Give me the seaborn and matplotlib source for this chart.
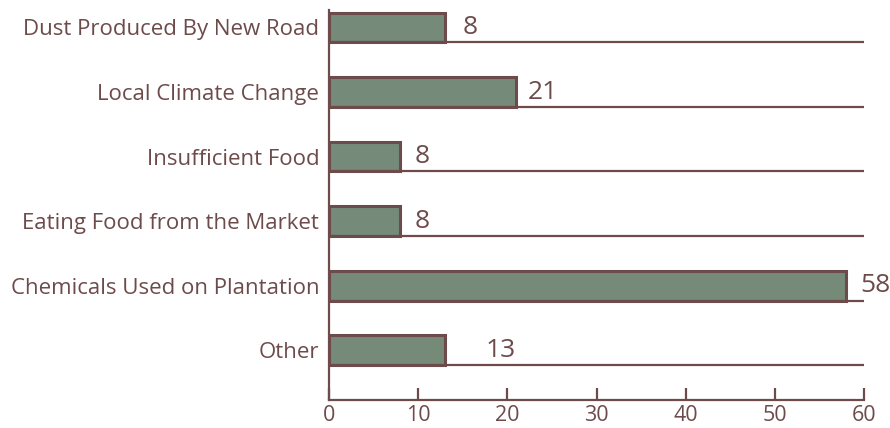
import matplotlib
matplotlib.use("Agg")
import matplotlib.pyplot as plt
import seaborn as sns
import pandas as pd

categories = ["Dust Produced By New Road", "Local Climate Change", "Insufficient Food",
              "Eating Food from the Market", "Chemicals Used on Plantation", "Other"]
bar_values = [13, 21, 8, 8, 58, 13]
value_labels = ["8", "21", "8", "8", "58", "13"]
x_ticks = [0, 10, 20, 30, 40, 50, 60]

brown = "#6e4b4b"
green = "#758a79"

sns.set_theme(style="white")
plt.rcParams['font.family'] = ['Open Sans', 'DejaVu Sans']

fig = plt.figure(figsize=(8.9, 4.28), dpi=100)
ax = fig.add_axes([0.3697, 0.0654, 0.6011, 0.9112])

df = pd.DataFrame({"cat": categories, "val": bar_values})
bar_h = 0.46
sns.barplot(data=df, x="val", y="cat", orient="h", color=green, width=bar_h,
            edgecolor=brown, linewidth=2.2, saturation=1, ax=ax)

# baseline under each bar
for i in range(len(categories)):
    ax.hlines(i + bar_h / 2, 0, 60, color=brown, linewidth=1.6, zorder=1)

offsets = [13, 8, 10, 10, 10, 29]
for i, (v, lab) in enumerate(zip(bar_values, value_labels)):
    ax.annotate(lab, xy=(v, i), xytext=(offsets[i], 0), textcoords="offset points",
                va="center", ha="left", fontsize=19, color=brown)

ax.set_xlim(0, 60)
ax.set_ylim(5.77, -0.27)
ax.set_xticks(x_ticks)
ax.set_xticklabels([str(t) for t in x_ticks])
ax.set_xlabel("")
ax.set_ylabel("")
for s in ["top", "right"]:
    ax.spines[s].set_visible(False)
for s in ["left", "bottom"]:
    ax.spines[s].set_color(brown)
    ax.spines[s].set_linewidth(1.6)
ax.tick_params(axis="x", direction="in", length=9, width=1.6, color=brown,
               labelcolor=brown, labelsize=15.5, pad=3.5, bottom=True)
ax.tick_params(axis="y", length=0, labelcolor=brown, labelsize=16, pad=7)

fig.savefig("out.png", dpi=100)
